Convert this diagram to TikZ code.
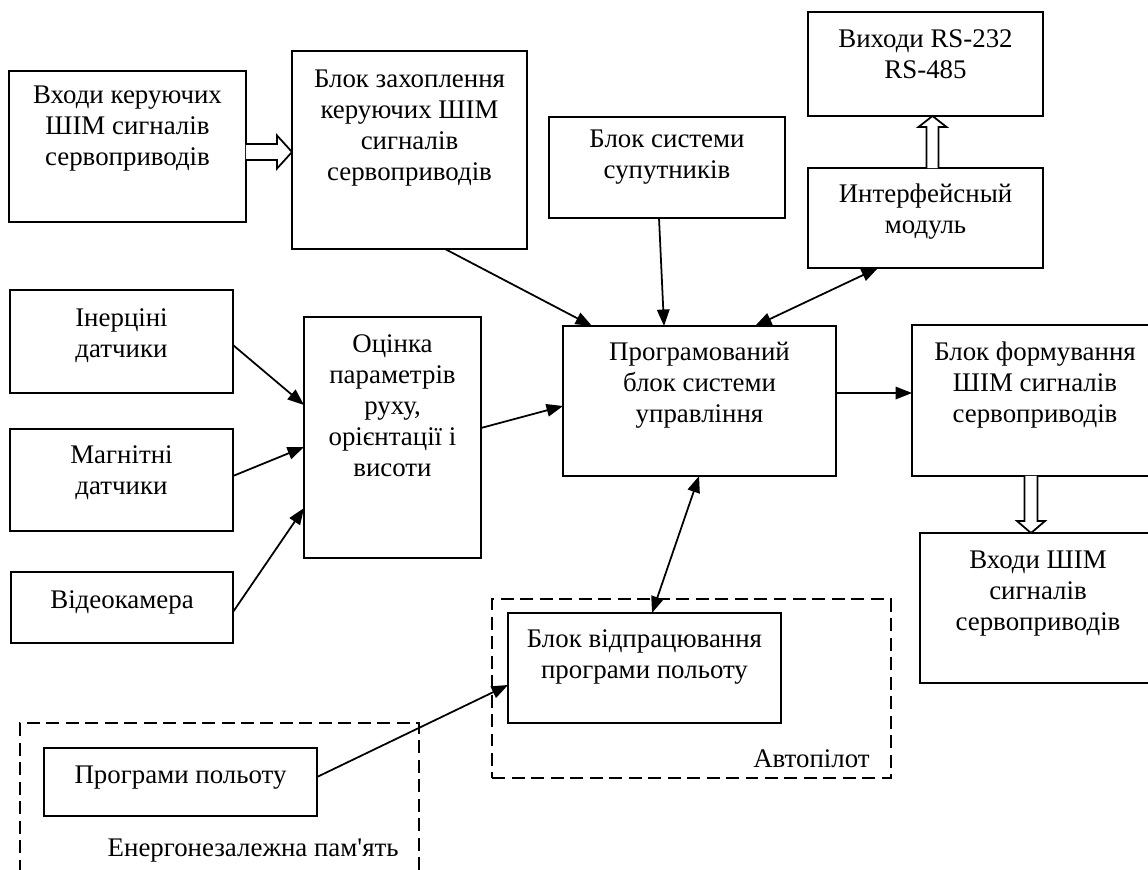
\documentclass[tikz,border=0pt]{standalone}
\usepackage{fontspec}
\newfontfamily\lserif{Liberation Serif}
\usetikzlibrary{arrows.meta,calc}
\newcommand\btext[1]{\begin{tabular}[t]{@{}c@{}}#1\end{tabular}}
\tikzset{
  box/.style={draw, line width=1.1pt, inner sep=0pt, outer sep=0pt, fill=white},
  dbox/.style={draw, line width=1.1pt, inner sep=0pt, outer sep=0pt, dash pattern=on 0.26cm off 0.13cm},
  txt/.style={inner sep=0pt, anchor=base, font=\lserif\fontsize{15.3}{17.64}\selectfont},
  arr/.style={line width=1pt, -{Triangle[length=0.33cm,width=0.25cm]}},
  barr/.style={line width=1pt, {Triangle[length=0.33cm,width=0.25cm]}-{Triangle[length=0.33cm,width=0.25cm]}},
  hollow/.style={draw, line width=1pt, fill=white, line join=miter}
}
\begin{document}
\begin{tikzpicture}[x=0.02cm, y=-0.02cm]
\useasboundingbox (0,0) rectangle (1148,869);
\clip (0,0) rectangle (1148,869);
\fill[white] (0,0) rectangle (1148,869);

% dashed groups
\node[dbox, minimum width=7.98cm, minimum height=3.58cm] (auto) at (691.5,688.5) {};
\node[dbox, minimum width=7.98cm, minimum height=3.54cm] (mem) at (219.5,811.5) {};

% boxes
\node[box, minimum width=4.74cm, minimum height=3.02cm] (in1) at (127.5,146.5) {};
\node[box, minimum width=4.70cm, minimum height=3.96cm] (cap) at (409.5,150) {};
\node[box, minimum width=4.72cm, minimum height=2.02cm] (sat) at (667,167.5) {};
\node[box, minimum width=4.70cm, minimum height=2.08cm] (rs) at (925.5,64) {};
\node[box, minimum width=4.70cm, minimum height=2.00cm] (intf) at (925.5,218) {};
\node[box, minimum width=4.46cm, minimum height=2.06cm] (iner) at (121.5,341.5) {};
\node[box, minimum width=4.46cm, minimum height=2.04cm] (mag) at (121.5,480) {};
\node[box, minimum width=4.44cm, minimum height=1.42cm] (vid) at (122,607.5) {};
\node[box, minimum width=3.54cm, minimum height=4.82cm] (est) at (392.5,437.5) {};
\node[box, minimum width=5.46cm, minimum height=3.00cm] (prog) at (699.5,401) {};
\node[box, minimum width=4.92cm, minimum height=3.02cm] (form) at (1035,400.5) {};
\node[box, minimum width=4.72cm, minimum height=3.00cm] (pwm) at (1038,608) {};
\node[box, minimum width=5.46cm, minimum height=2.20cm] (exec) at (644.5,668) {};
\node[box, minimum width=5.46cm, minimum height=1.36cm] (flight) at (180.5,782) {};

% texts
\path (in1.north) ++(0,32) node[txt] (in1t) {\btext{Входи керуючих\\ШІМ сигналів\\сервоприводів}};
\path (cap.north) ++(0,36) node[txt] (capt) {\btext{Блок захоплення\\керуючих ШІМ\\сигналів\\сервоприводів}};
\path (sat.north) ++(0,30) node[txt] (satt) {\btext{Блок системи\\супутників}};
\path (rs.north) ++(0,35) node[txt] (rst) {\btext{Виходи RS-232\\RS-485}};
\path (intf.north) ++(0,34) node[txt] (intft) {\btext{Интерфейсный\\модуль}};
\path (iner.north) ++(0,36) node[txt] (inert) {\btext{Інерціні\\датчики}};
\path (mag.north) ++(0,34) node[txt] (magt) {\btext{Магнітні\\датчики}};
\path (vid.north) ++(0,36) node[txt] (vidt) {Відеокамера};
\path (est.north) ++(0,35) node[txt] (estt) {\btext{Оцінка\\параметрів\\руху,\\орієнтації і\\висоти}};
\path (prog.north) ++(0,34) node[txt] (progt) {\btext{Програмований\\блок системи\\управління}};
\path (form.north) ++(0,35) node[txt] (formt) {\btext{Блок формування\\ШІМ сигналів\\сервоприводів}};
\path (pwm.north) ++(0,35) node[txt] (pwmt) {\btext{Входи ШІМ\\сигналів\\сервоприводів}};
\path (exec.north) ++(0,34) node[txt] (exect) {\btext{Блок відпрацювання\\програми польоту}};
\path (flight.north) ++(0,35) node[txt] (flightt) {Програми польоту};
\node[txt, anchor=base east] (autot) at (870,767) {Автопілот};
\node[txt, anchor=base east] (memt) at (399,856) {Енергонезалежна пам'ять};

% connectors
\draw[arr] ($(cap.south)+(35.5,0)$) -- ($(prog.north west)+(29,0)$);
\draw[arr] ($(sat.south)+(-8,0)$) -- ($(prog.north west)+(101,0)$);
\draw[barr] ($(prog.north west)+(192,0)$) -- ($(intf.south west)+(70,0)$);
\draw[arr] ($(iner.east)+(0,3.5)$) -- ($(est.west)+(0,-32.5)$);
\draw[arr] ($(mag.east)+(0,-4)$) -- ($(est.west)+(0,9.5)$);
\draw[arr] ($(vid.east)+(0,4.5)$) -- ($(est.west)+(0,70.5)$);
\draw[arr] ($(est.east)+(0,-9.5)$) -- ($(prog.west)+(0,5)$);
\draw[arr] ($(prog.east)+(0,-8)$) -- ($(form.west)+(0,-7.5)$);
\draw[barr] ($(prog.south west)+(136,0)$) -- ($(exec.north west)+(144,0)$);
\draw[arr] ($(flight.east)+(0,-5)$) -- ($(exec.west)+(0,17)$);

% hollow block arrows
\coordinate (h1s) at ($(in1.east)+(0,5.5)$);
\coordinate (h1e) at (cap.west |- h1s);
\draw[hollow] ($(h1s)+(0,-8)$) -- ($(h1e)+(-15,-8)$) -- ($(h1e)+(-15,-16.5)$) -- (h1e) -- ($(h1e)+(-15,16.5)$) -- ($(h1e)+(-15,8)$) -- ($(h1s)+(0,8)$);

\coordinate (h2s) at ($(intf.north)+(7,0)$);
\coordinate (h2e) at (h2s |- rs.south);
\draw[hollow] ($(h2s)+(-6,0)$) -- ($(h2e)+(-6,11)$) -- ($(h2e)+(-14,11)$) -- (h2e) -- ($(h2e)+(14,11)$) -- ($(h2e)+(6,11)$) -- ($(h2s)+(6,0)$);

\coordinate (h3s) at ($(form.south)+(-4,0)$);
\coordinate (h3e) at (h3s |- pwm.north);
\draw[hollow] ($(h3s)+(-6.5,0)$) -- ($(h3e)+(-6.5,-12)$) -- ($(h3e)+(-14,-12)$) -- (h3e) -- ($(h3e)+(14,-12)$) -- ($(h3e)+(6.5,-12)$) -- ($(h3s)+(6.5,0)$);
\end{tikzpicture}
\end{document}
